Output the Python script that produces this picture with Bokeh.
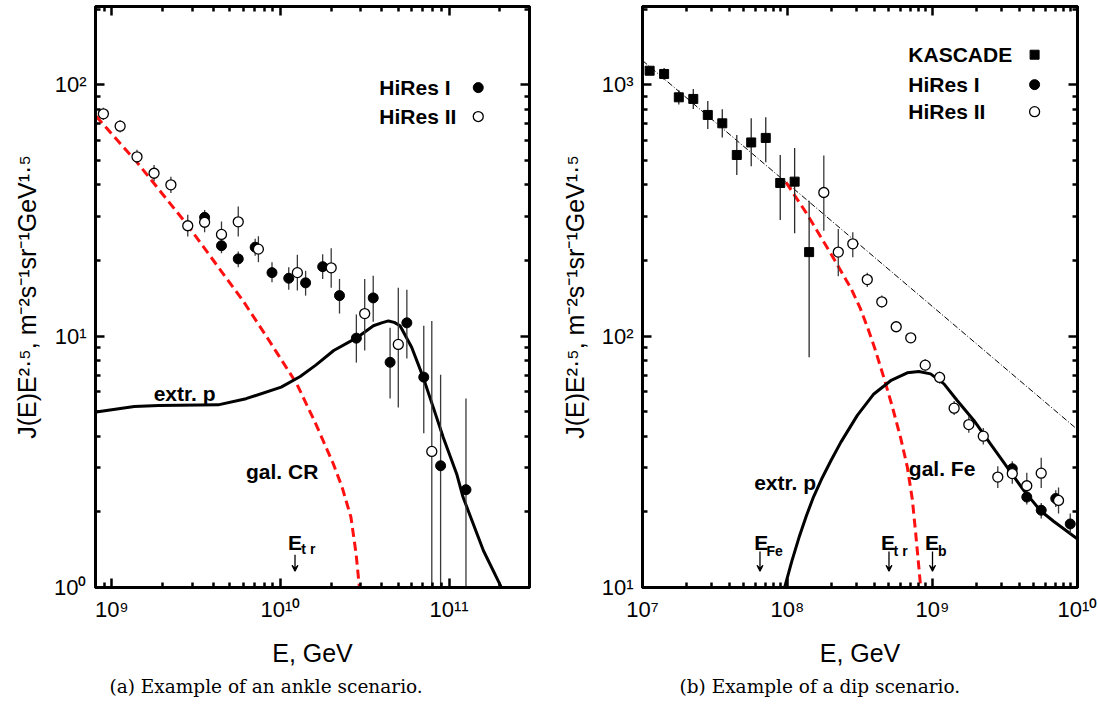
import math
from bokeh.plotting import figure
from bokeh.models import (FixedTicker, LogAxis, Label, Arrow, VeeHead, Title,
                          CustomJSTickFormatter)
from bokeh.layouts import row
from bokeh.embed import file_html
from bokeh.resources import INLINE

# ---------------- data ----------------
# HiRes I (filled circles)
hires1_E = [3.55e9, 4.47e9, 5.62e9, 7.08e9, 8.91e9, 1.12e10, 1.41e10, 1.78e10,
            2.24e10, 2.82e10, 3.55e10, 4.47e10, 5.62e10, 7.08e10, 8.91e10, 1.26e11]
hires1_J = [29.7, 22.9, 20.3, 22.6, 17.9, 17.0, 16.3, 18.9,
            14.5, 9.82, 14.2, 7.87, 11.3, 6.87, 3.05, 2.45]
hires1_lo = [28.0, 21.4, 18.8, 20.9, 16.4, 15.3, 14.5, 16.9,
             12.3, 7.85, 11.4, 5.65, 8.15, 4.11, 0.5, 0.5]
hires1_hi = [31.8, 24.4, 21.7, 24.4, 19.7, 18.8, 18.2, 21.2,
             16.9, 12.2, 17.4, 10.8, 15.3, 11.0, 7.03, 5.65]

# HiRes II (open circles)
hires2_E = [1.78e8, 2.24e8, 2.82e8, 3.55e8, 4.47e8, 5.62e8, 7.08e8, 8.91e8,
            1.12e9, 1.41e9, 1.78e9, 2.24e9, 2.82e9, 3.55e9, 4.47e9, 5.62e9,
            7.4e9, 1.26e10, 2.0e10, 3.16e10, 5.0e10, 7.9e10]
hires2_J = [373, 216, 233, 168, 137, 109, 98.5, 76.7,
            68.5, 51.7, 44.5, 40.0, 27.5, 28.4, 25.4, 28.5,
            22.2, 17.9, 18.7, 12.3, 9.27, 3.48]
hires2_lo = [263, 173, 206, 157, 130, 104, 94, 72.5,
             64.7, 48.6, 41.3, 37.1, 24.9, 25.9, 22.5, 24.9,
             19.7, 15.2, 15.6, 8.77, 5.2, 0.5]
hires2_hi = [523, 267, 259, 179, 145, 114, 103, 81.0,
             72.3, 55.2, 48.0, 43.1, 30.4, 31.1, 28.6, 32.8,
             25.0, 21.1, 22.4, 16.9, 15.6, 11.5]

# KASCADE (filled squares)
kascade_E = [1.12e7, 1.41e7, 1.78e7, 2.24e7, 2.82e7, 3.55e7, 4.47e7, 5.62e7,
             7.08e7, 8.91e7, 1.12e8, 1.41e8]
kascade_J = [1138, 1105, 892, 879, 759, 703, 526, 590, 615, 407, 412, 216]
kascade_lo = [1098, 1046, 836, 802, 668, 618, 438, 474, 492, 290, 257, 82.4]
kascade_hi = [1181, 1168, 951, 963, 863, 799, 632, 736, 743, 526, 561, 346]

# KASCADE power-law extrapolation (thin dash-dot line)
kfit_E = [1.0e7, 1.0e10]
kfit_J = [1250, 42.5]

# (a) ankle scenario curves
galcr_E = [8.07e8, 1.41e9, 2.77e9, 5.97e9, 8.32e9, 1.25e10, 1.62e10, 2.06e10,
           2.32e10, 2.62e10, 2.81e10, 2.94e10]
galcr_J = [75.0, 49.2, 28.0, 13.9, 9.9, 6.46, 4.48, 3.10, 2.51, 1.90, 1.36, 1.0]

extrp_a_E = [8.07e8, 1.36e9, 1.9e9, 4.27e9, 6.25e9, 1.01e10, 1.31e10, 1.62e10,
             2.07e10, 2.81e10, 3.56e10, 3.98e10, 4.37e10, 4.73e10, 5.12e10,
             6.0e10, 7.02e10, 8.05e10, 9.23e10, 1.11e11, 1.21e11, 1.60e11, 2.03e11]
extrp_a_J = [4.99, 5.25, 5.30, 5.33, 5.64, 6.27, 6.91, 7.67,
             8.77, 9.82, 11.0, 11.3, 11.5, 11.35, 11.0,
             9.03, 6.87, 5.22, 3.96, 2.83, 2.29, 1.40, 1.01]

# (b) dip scenario curves
galfe_E = [9.77e7, 1.34e8, 2.0e8, 2.74e8, 3.16e8, 3.57e8, 3.98e8, 4.62e8, 5.28e8,
           6.03e8, 6.70e8, 7.26e8, 7.66e8, 8.28e8]
galfe_J = [409, 311, 212, 155, 130, 108, 90.2, 68.4, 52.5, 39.4, 30.2, 22.4, 16.4, 10.1]

extrp_b_E = [9.6e7, 1.07e8, 1.2e8, 1.35e8, 1.51e8, 1.74e8, 2.0e8, 2.33e8,
             3.03e8, 3.94e8, 5.14e8, 6.70e8, 8.05e8, 9.70e8, 1.20e9, 1.48e9,
             1.93e9, 2.51e9, 3.27e9, 4.27e9, 5.56e9, 6.87e9, 1.0e10]
extrp_b_J = [10.1, 12.7, 15.8, 19.3, 22.9, 27.4, 32.1, 37.8,
             48.4, 58.9, 66.5, 71.5, 72.4, 70.8, 64.6, 55.5,
             46.2, 37.3, 30.1, 24.3, 20.2, 18.3, 15.6]

# ---------------- styling ----------------
SANS = "Liberation Sans"
SERIF = "DejaVu Serif"
RED = "#ff1010"

SUP_JS = """
const s = {'0':'\u2070','1':'\u00b9','2':'\u00b2','3':'\u00b3','4':'\u2074',
           '5':'\u2075','6':'\u2076','7':'\u2077','8':'\u2078','9':'\u2079','-':'\u207b'};
const e = Math.round(Math.log10(tick));
return '10' + String(e).split('').map(c => s[c]).join('');
"""


def log_ticks(lo, hi):
    majors, minors = [], []
    for k in range(int(math.floor(math.log10(lo))), int(math.ceil(math.log10(hi))) + 1):
        for m in range(1, 10):
            v = m * 10.0 ** k
            if lo * 0.9999 <= v <= hi * 1.0001:
                (majors if m == 1 else minors).append(v)
    return majors, minors


def style_axis(ax, majors, minors, labels):
    ax.ticker = FixedTicker(ticks=majors, minor_ticks=minors)
    ax.axis_line_width = 3
    ax.axis_line_color = "black"
    ax.major_tick_in = 9
    ax.major_tick_out = 0
    ax.minor_tick_in = 5
    ax.minor_tick_out = 0
    ax.major_tick_line_width = 2.5
    ax.minor_tick_line_width = 2.5
    ax.major_tick_line_color = "black"
    ax.minor_tick_line_color = "black"
    if labels:
        ax.formatter = CustomJSTickFormatter(code=SUP_JS)
        ax.major_label_text_font = SANS
        ax.major_label_text_font_size = "22px"
        ax.major_label_text_color = "black"
        ax.major_label_standoff = 9
    else:
        ax.formatter = CustomJSTickFormatter(code="return ''")
        ax.major_label_text_font_size = "0px"
        ax.major_label_standoff = 0


def make_panel(xr, yr, width, bl, br, caption, cap_offset):
    p = figure(width=width, height=708, x_axis_type="log", y_axis_type="log",
               x_range=xr, y_range=yr, output_backend="svg", toolbar_location=None,
               min_border_left=bl, min_border_right=br, min_border_top=6,
               min_border_bottom=121, background_fill_color="white",
               border_fill_color="white")
    p.grid.visible = False
    p.outline_line_color = "black"
    p.outline_line_width = 3
    xmaj, xmin = log_ticks(*xr)
    ymaj, ymin = log_ticks(*yr)
    xa = p.xaxis[0]
    ya = p.yaxis[0]
    style_axis(xa, xmaj, xmin, True)
    style_axis(ya, ymaj, ymin, True)
    xa.axis_label = "E, GeV"
    ya.axis_label = "J(E)E\u00b2\u00b7\u2075, m\u207b\u00b2s\u207b\u00b9sr\u207b\u00b9GeV\u00b9\u00b7\u2075"
    for ax in (xa, ya):
        ax.axis_label_text_font = SANS
        ax.axis_label_text_font_size = "25px"
        ax.axis_label_text_font_style = "normal"
        ax.axis_label_text_color = "black"
    xa.axis_label_standoff = 14
    ya.axis_label_standoff = 10
    top = LogAxis()
    style_axis(top, xmaj, xmin, False)
    p.add_layout(top, "above")
    right = LogAxis()
    style_axis(right, ymaj, ymin, False)
    p.add_layout(right, "right")
    p.add_layout(Title(text=caption, align="left", offset=cap_offset, text_font=SERIF,
                       text_font_size="18.5px", text_font_style="normal",
                       text_color="black", standoff=8), "below")
    return p


def add_text(p, x, y, txt, size="21px", baseline="alphabetic"):
    p.add_layout(Label(x=x, y=y, text=txt, text_font=SANS, text_font_style="bold",
                       text_font_size=size, text_baseline=baseline, text_color="black"))


def add_arrow(p, x, y0, y1):
    p.add_layout(Arrow(end=VeeHead(size=6, line_width=1.2, fill_color="black"),
                       x_start=x, y_start=y0, x_end=x, y_end=y1,
                       line_width=1.3, line_color="black"))


def draw_hires(p):
    p.segment(x0=hires1_E, y0=hires1_lo, x1=hires1_E, y1=hires1_hi,
              line_color="#3a3a3a", line_width=1.3)
    p.segment(x0=hires2_E, y0=hires2_lo, x1=hires2_E, y1=hires2_hi,
              line_color="#3a3a3a", line_width=1.3)
    p.scatter(hires1_E, hires1_J, marker="circle", size=10,
              fill_color="black", line_color="black")
    p.scatter(hires2_E, hires2_J, marker="circle", size=10,
              fill_color="white", line_color="black", line_width=1.3)


# ---------------- panel (a) ----------------
pa = make_panel((8.0e8, 3.0e11), (1.0, 205.0), 549, 95, 20,
                "(a) Example of an ankle scenario.", 14)
pa.line(galcr_E, galcr_J, line_color=RED, line_width=3, line_dash="9 5")
pa.line(extrp_a_E, extrp_a_J, line_color="black", line_width=3)
draw_hires(pa)

add_text(pa, 3.86e10, 97.5, "HiRes I", baseline="middle")
add_text(pa, 3.86e10, 74.8, "HiRes II", baseline="middle")
pa.scatter([1.49e11], [97.5], marker="circle", size=10, fill_color="black", line_color="black")
pa.scatter([1.49e11], [74.8], marker="circle", size=10, fill_color="white",
           line_color="black", line_width=1.3)
add_text(pa, 1.77e9, 5.92, "extr. p")
add_text(pa, 6.25e9, 2.90, "gal. CR")
add_text(pa, 1.11e10, 1.51, "E")
add_text(pa, 1.33e10, 1.42, "t r", size="14px")
add_arrow(pa, 1.22e10, 1.35, 1.16)

# ---------------- panel (b) ----------------
pb = make_panel((1.0e7, 1.0e10), (10.0, 2050.0), 549, 93, 21,
                "(b) Example of a dip scenario.", 37)
pb.line(kfit_E, kfit_J, line_color="black", line_width=1, line_dash="6 2 1 2")
pb.line(galfe_E, galfe_J, line_color=RED, line_width=3, line_dash="9 5")
pb.line(extrp_b_E, extrp_b_J, line_color="black", line_width=3)
pb.segment(x0=kascade_E, y0=kascade_lo, x1=kascade_E, y1=kascade_hi,
           line_color="#2a2a2a", line_width=1.3)
pb.scatter(kascade_E, kascade_J, marker="square", size=9,
           fill_color="black", line_color="black")
draw_hires(pb)

add_text(pb, 6.81e8, 1318, "KASCADE", baseline="middle")
add_text(pb, 6.81e8, 1002, "HiRes I", baseline="middle")
add_text(pb, 6.81e8, 782, "HiRes II", baseline="middle")
pb.scatter([5.06e9], [1318], marker="square", size=9, fill_color="black", line_color="black")
pb.scatter([5.06e9], [1002], marker="circle", size=10, fill_color="black", line_color="black")
pb.scatter([5.06e9], [782], marker="circle", size=10, fill_color="white",
           line_color="black", line_width=1.3)
add_text(pb, 5.89e7, 26.2, "extr. p")
add_text(pb, 6.87e8, 29.8, "gal. Fe")
add_text(pb, 5.89e7, 15.1, "E")
add_text(pb, 7.16e7, 14.0, "Fe", size="14px")
add_arrow(pb, 6.46e7, 13.9, 11.6)
add_text(pb, 4.41e8, 15.1, "E")
add_text(pb, 5.39e8, 14.0, "t r", size="14px")
add_arrow(pb, 5.01e8, 13.9, 11.6)
add_text(pb, 8.89e8, 15.1, "E")
add_text(pb, 1.09e9, 14.0, "b", size="14px")
add_arrow(pb, 1.0e9, 13.9, 11.6)

layout = row(pa, pb)
open("out.html", "w").write(file_html(layout, INLINE))
